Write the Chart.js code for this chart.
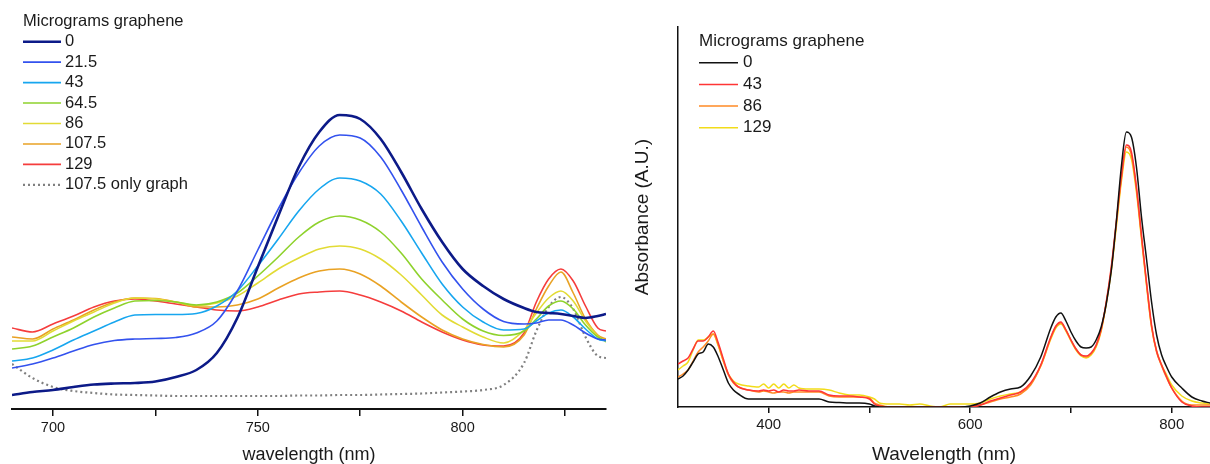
<!DOCTYPE html>
<html lang="en">
<head>
<meta charset="UTF-8">
<title>Micrograms graphene - absorbance</title>
<script src="https://cdn.jsdelivr.net/npm/chart.js@4.4.1/dist/chart.umd.min.js"></script>
<style>
body { margin: 0; background: #fff; }
#left { position: absolute; left: 0; top: 0; }
#right { position: absolute; left: 620px; top: 0; }
</style>
</head>
<body>
<canvas id="left" width="620" height="464"></canvas>
<canvas id="right" width="590" height="464"></canvas>
<script>
// left panel: wavelength (nm) and absorbance (arbitrary units)
const leftWl = [690,695,700,705,710,715,720,725,730,735,740,745,750,755,760,765,770,775,780,785,790,795,800,805,810,815,818,821,824,827,830,833,835];
const left0   = [0.14,0.17,0.19,0.22,0.245,0.255,0.26,0.275,0.32,0.39,0.56,0.91,1.42,1.93,2.42,2.77,2.94,2.90,2.70,2.37,2.00,1.67,1.40,1.23,1.10,1.01,0.97,0.96,0.95,0.93,0.91,0.93,0.95];
const left21  = [0.41,0.45,0.51,0.58,0.645,0.685,0.70,0.705,0.715,0.76,0.88,1.18,1.59,2.00,2.36,2.63,2.74,2.71,2.52,2.19,1.82,1.47,1.20,1.00,0.875,0.85,0.86,0.89,0.89,0.84,0.76,0.70,0.69];
const left43  = [0.48,0.51,0.59,0.69,0.78,0.87,0.94,0.945,0.945,0.955,1.03,1.18,1.43,1.70,1.98,2.20,2.31,2.28,2.15,1.88,1.56,1.25,1.02,0.87,0.79,0.80,0.88,0.96,0.99,0.92,0.80,0.70,0.68];
const left64  = [0.60,0.63,0.72,0.81,0.92,1.01,1.08,1.085,1.07,1.04,1.07,1.16,1.33,1.52,1.72,1.87,1.93,1.89,1.77,1.56,1.30,1.09,0.90,0.78,0.735,0.78,0.90,1.03,1.08,1.00,0.84,0.72,0.68];
const left86  = [0.68,0.68,0.78,0.88,0.97,1.06,1.11,1.10,1.07,1.035,1.06,1.13,1.26,1.40,1.51,1.60,1.63,1.60,1.50,1.34,1.14,0.94,0.82,0.72,0.66,0.79,0.96,1.11,1.18,1.08,0.88,0.73,0.67];
const left107 = [0.72,0.70,0.80,0.89,0.99,1.07,1.11,1.105,1.07,1.02,1.02,1.04,1.10,1.21,1.31,1.38,1.40,1.35,1.23,1.07,0.92,0.79,0.70,0.645,0.62,0.74,1.00,1.23,1.37,1.16,0.90,0.74,0.70];
const left129 = [0.81,0.77,0.85,0.93,1.02,1.08,1.10,1.08,1.05,1.02,0.99,0.98,1.02,1.09,1.15,1.17,1.18,1.14,1.07,0.98,0.87,0.77,0.69,0.64,0.63,0.76,1.07,1.30,1.40,1.28,1.03,0.81,0.78];
const leftOnly = [0.45,0.31,0.22,0.18,0.16,0.145,0.14,0.135,0.13,0.13,0.13,0.13,0.13,0.13,0.135,0.135,0.14,0.14,0.145,0.15,0.155,0.165,0.175,0.19,0.24,0.46,0.78,1.02,1.12,1.00,0.72,0.53,0.51];
const leftLabels = ['0','21.5','43','64.5','86','107.5','129','107.5 only graph'];

// right panel
const rightWl = [310,315,320,325,330,335,340,345,350,355,360,365,370,380,390,395,400,405,410,415,420,425,430,440,450,460,470,480,490,500,505,510,520,530,540,550,560,570,580,590,600,610,620,630,640,650,660,670,680,685,690,695,700,705,710,715,720,725,730,735,740,745,750,755,760,765,770,775,780,785,790,795,800,810,820,830,838];
const right0 = [0.28,0.31,0.37,0.45,0.53,0.55,0.63,0.60,0.50,0.37,0.24,0.17,0.13,
  0.08,0.08,0.08,0.08,0.08,0.08,0.08,0.08,0.08,0.08,
  0.08,0.08,0.05,0.045,0.04,0.04,0.03,0.01,0,
  0,0,0,0,0,0,0,0,0.01,0.04,0.10,0.15,0.18,0.20,0.31,0.50,0.79,
  0.90,0.94,0.86,0.75,0.66,0.60,0.59,0.60,0.67,0.80,1.03,1.36,1.85,2.40,2.75,2.70,2.40,1.90,1.48,1.05,0.72,0.52,0.40,0.30,
  0.19,0.10,0.06,0.04];
const right43 = [0.43,0.46,0.49,0.58,0.66,0.66,0.70,0.76,0.64,0.48,0.33,0.25,0.20,
  0.17,0.16,0.17,0.16,0.17,0.15,0.17,0.16,0.16,0.17,
  0.16,0.16,0.12,0.11,0.11,0.10,0.08,0.03,0.01,
  0,0,0,0,0,0,0,0,0,0.02,0.06,0.09,0.12,0.15,0.24,0.42,0.70,
  0.81,0.85,0.77,0.67,0.58,0.52,0.51,0.54,0.62,0.78,1.05,1.40,1.85,2.30,2.62,2.55,2.20,1.72,1.25,0.82,0.56,0.42,0.30,0.19,
  0.05,0.01,0,0];
const right86 = [0.30,0.33,0.37,0.46,0.55,0.60,0.66,0.73,0.62,0.46,0.32,0.24,0.20,
  0.17,0.15,0.16,0.15,0.14,0.15,0.15,0.14,0.15,0.15,
  0.15,0.15,0.11,0.10,0.10,0.10,0.09,0.04,0.02,
  0,0,0,0,0,0,0,0,0,0.02,0.05,0.08,0.10,0.13,0.22,0.41,0.69,
  0.80,0.84,0.77,0.67,0.58,0.52,0.50,0.53,0.61,0.77,1.04,1.38,1.83,2.28,2.60,2.52,2.18,1.70,1.23,0.80,0.55,0.41,0.29,0.19,
  0.06,0.02,0.02,0.02];
const right129 = [0.37,0.41,0.45,0.57,0.67,0.67,0.70,0.73,0.61,0.46,0.33,0.26,0.23,
  0.21,0.20,0.23,0.19,0.23,0.19,0.23,0.19,0.22,0.19,
  0.18,0.18,0.17,0.14,0.12,0.12,0.10,0.08,0.04,
  0.03,0.03,0.02,0.03,0.01,0,0.03,0.03,0.03,0.04,0.08,0.11,0.13,0.15,0.23,0.41,0.68,
  0.79,0.83,0.76,0.66,0.57,0.51,0.49,0.52,0.60,0.76,1.03,1.36,1.80,2.25,2.55,2.48,2.15,1.68,1.22,0.80,0.56,0.42,0.32,0.22,
  0.11,0.06,0.04,0.03];
const rightLabels = ['0','43','86','129'];

Chart.defaults.font.family = '"Liberation Sans", Arial, sans-serif';
Chart.defaults.color = '#1a1a1a';

function pts(xs, ys) {
  return xs.map((x, i) => ({ x: x, y: ys[i] }));
}

// legend drawn inside the plot, top-left
const insideLegend = {
  id: 'insideLegend',
  afterDraw(chart, args, opts) {
    const ctx = chart.ctx;
    ctx.save();
    ctx.font = opts.size + 'px "Liberation Sans", Arial, sans-serif';
    ctx.fillStyle = '#1a1a1a';
    ctx.textBaseline = 'middle';
    ctx.fillText(opts.title, opts.x, opts.titleY);
    chart.data.datasets.forEach((ds, i) => {
      const y = opts.firstY + i * opts.rowH;
      ctx.strokeStyle = ds.borderColor;
      ctx.lineWidth = ds.borderWidth;
      ctx.setLineDash(ds.borderDash || []);
      ctx.beginPath();
      ctx.moveTo(opts.x, y);
      ctx.lineTo(opts.x + opts.lineLen, y);
      ctx.stroke();
      ctx.setLineDash([]);
      ctx.fillText(ds.label, opts.textX, y);
    });
    ctx.restore();
  }
};

const leftSeries = [left0, left21, left43, left64, left86, left107, left129, leftOnly];
const leftColors = ['#0c1a88', '#3352ee', '#17a6ef', '#8ed22c', '#e2db35', '#e9a224', '#f53d3d', '#808080'];

new Chart(document.getElementById('left'), {
  type: 'line',
  data: {
    datasets: leftSeries.map((s, i) => ({
      label: leftLabels[i],
      data: pts(leftWl, s),
      borderColor: leftColors[i],
      borderWidth: i === 0 ? 2.6 : (i === 7 ? 2.2 : 1.6),
      borderDash: i === 7 ? [2, 3] : [],
      cubicInterpolationMode: 'monotone',
      pointRadius: 0
    }))
  },
  options: {
    responsive: false,
    animation: false,
    layout: { padding: { left: 12, right: 14, top: 9, bottom: 0 } },
    plugins: {
      legend: { display: false },
      tooltip: { enabled: false },
      insideLegend: { title: 'Micrograms graphene', size: 16.5, x: 23, titleY: 21, firstY: 41.7, rowH: 20.45, lineLen: 38, textX: 65 }
    },
    scales: {
      x: {
        type: 'linear', min: 690, max: 835,
        afterFit: s => { s.height = 55; },
        ticks: { stepSize: 25, includeBounds: false, autoSkip: false, maxRotation: 0, padding: 3,
                 color: '#1a1a1a', font: { size: 14.5 },
                 callback: v => (v % 50 === 0 ? v : '') },
        grid: { drawOnChartArea: false, tickLength: 7, color: '#111', lineWidth: 1.5 },
        border: { color: '#111', width: 2 },
        title: { display: true, text: 'wavelength (nm)', color: '#1a1a1a', font: { size: 18, lineHeight: 1 }, padding: { top: 0, bottom: 0 } }
      },
      y: { display: false, min: 0, max: 4 }
    }
  },
  plugins: [insideLegend]
});

const rightSeries = [right0, right43, right86, right129];
const rightColors = ['#111111', '#ff3535', '#ff8a24', '#f2dc1a'];

new Chart(document.getElementById('right'), {
  type: 'line',
  data: {
    datasets: rightSeries.map((s, i) => ({
      label: rightLabels[i],
      data: pts(rightWl, s),
      borderColor: rightColors[i],
      borderWidth: 1.5,
      cubicInterpolationMode: 'monotone',
      pointRadius: 0
    }))
  },
  options: {
    responsive: false,
    animation: false,
    layout: { padding: { left: 0, right: 0, top: 27, bottom: 0 } },
    plugins: {
      legend: { display: false },
      tooltip: { enabled: false },
      insideLegend: { title: 'Micrograms graphene', size: 17, x: 79, titleY: 41.7, firstY: 62.7, rowH: 21.7, lineLen: 39, textX: 123 }
    },
    scales: {
      x: {
        type: 'linear', min: 310, max: 838,
        afterFit: s => { s.height = 57; },
        ticks: { stepSize: 100, includeBounds: false, autoSkip: false, maxRotation: 0, padding: 3,
                 color: '#1a1a1a', font: { size: 15 },
                 callback: v => (v % 200 === 0 ? v : '') },
        grid: { drawOnChartArea: false, tickLength: 6, color: '#111', lineWidth: 1.5 },
        border: { color: '#111', width: 1.5 },
        title: { display: true, text: 'Wavelength (nm)', color: '#1a1a1a', font: { size: 19, lineHeight: 1 }, padding: { top: 0, bottom: 0 } }
      },
      y: {
        min: 0, max: 3.8,
        afterFit: s => { s.width = 58; },
        ticks: { display: false },
        grid: { display: false },
        border: { display: true, color: '#111', width: 1.5 },
        title: { display: true, text: 'Absorbance (A.U.)', color: '#1a1a1a', font: { size: 19, lineHeight: 1 }, padding: { top: 13, bottom: 0 } }
      }
    }
  },
  plugins: [insideLegend]
});
</script>
</body>
</html>
